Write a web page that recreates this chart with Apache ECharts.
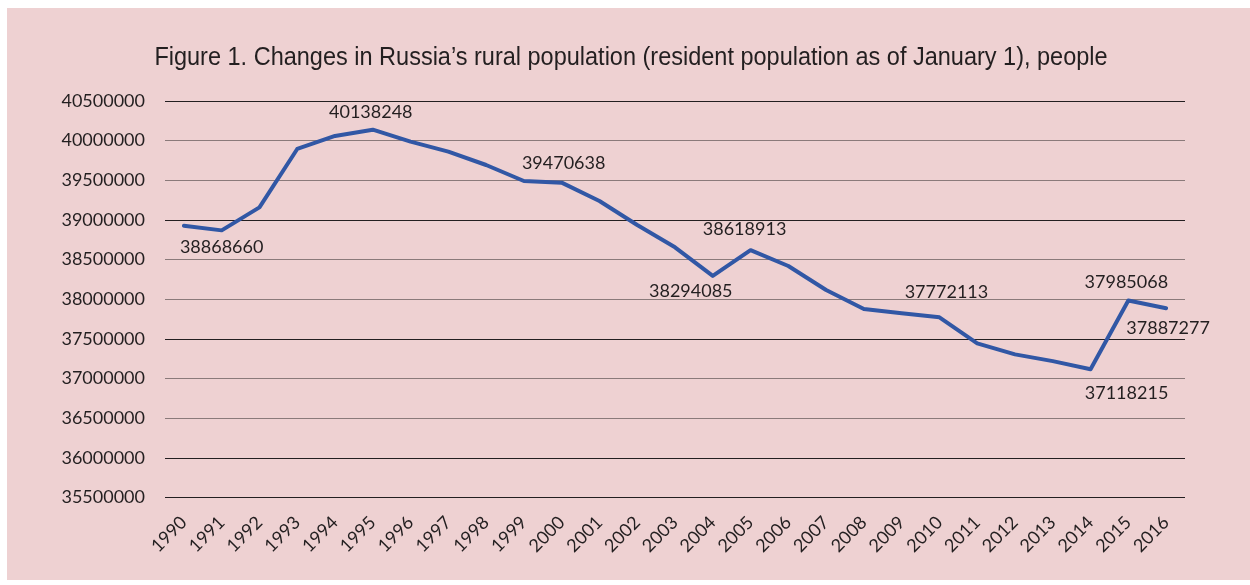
<!DOCTYPE html>
<html>
<head>
<meta charset="utf-8">
<script src="https://cdn.jsdelivr.net/npm/echarts@6/dist/echarts.min.js"></script>
<style>
  html, body { margin: 0; padding: 0; background: #ffffff; }
  #frame { position: absolute; left: 7px; top: 8px; width: 1243px; height: 572px; background: #eed1d2; }
  #chart { position: absolute; left: 0; top: 0; width: 1250px; height: 585px; }
</style>
</head>
<body>
<div id="frame"></div>
<div id="chart"></div>
<script>
// Rural population of Russia, resident population as of January 1
const years = ['1990','1991','1992','1993','1994','1995','1996','1997','1998','1999',
  '2000','2001','2002','2003','2004','2005','2006','2007','2008','2009',
  '2010','2011','2012','2013','2014','2015','2016'];
const ruralPopulation = [38928000, 38868660, 39159000, 39895000, 40059000, 40138248, 39987000,
  39861000, 39693000, 39491000, 39470638, 39239000, 38936000, 38655000, 38294085,
  38618913, 38419000, 38117000, 37877000, 37823000, 37772113, 37444000, 37305000,
  37220000, 37118215, 37985068, 37887277];
const yMin = 35500000;
const yMax = 40500000;
const yStep = 500000;
const titleText = 'Figure 1. Changes in Russia\u2019s rural population (resident population as of January 1), people';

// Years whose value is printed next to the line: side, distance, horizontal shift
const valueLabels = {
  '1991': ['bottom', 8, 0],
  '1995': ['top', 8, -2],
  '2000': ['top', 10, 2],
  '2004': ['bottom', 6, -22],
  '2005': ['top', 12, -6],
  '2010': ['top', 16, 7],
  '2014': ['bottom', 15, 36],
  '2015': ['top', 9, -2],
  '2016': ['bottom', 11, 2]
};

const ink = '#231f20';
const dark = '#231f20';
const grey = '#8a7a7a';
const lineBlue = '#3157a5';
const labelFont = 'Lato, "Open Sans", sans-serif';

const seriesData = ruralPopulation.map((v, i) => {
  const cfg = valueLabels[years[i]];
  if (!cfg) return v;
  return {
    value: v,
    label: {
      show: true,
      position: cfg[0],
      distance: cfg[1],
      offset: [cfg[2], 0]
    }
  };
});

const chart = echarts.init(document.getElementById('chart'), null, { renderer: 'canvas' });
chart.setOption({
  backgroundColor: 'transparent',
  animation: false,
  // condensed heading, drawn as a horizontally narrowed text element
  graphic: [{
    type: 'text',
    x: 631,
    y: 58.5,
    scaleX: 0.94,
    style: {
      text: titleText,
      x: 0,
      y: 0,
      align: 'center',
      verticalAlign: 'middle',
      fontFamily: '"Liberation Sans", Arial, sans-serif',
      fontSize: 25,
      fill: ink
    }
  }],
  grid: { left: 165, right: 65, top: 101, bottom: 87.5 },
  xAxis: {
    type: 'category',
    data: years,
    boundaryGap: true,
    axisLine: { show: false },
    axisTick: { show: false },
    axisLabel: {
      rotate: 45,
      margin: 22,
      interval: 0,
      fontFamily: labelFont,
      fontSize: 18,
      color: ink
    }
  },
  yAxis: {
    type: 'value',
    min: yMin,
    max: yMax,
    interval: yStep,
    axisLine: { show: false },
    axisTick: { show: false },
    axisLabel: {
      margin: 20,
      fontFamily: labelFont,
      fontSize: 18,
      color: ink,
      formatter: (v) => String(v)
    },
    splitLine: {
      show: true,
      lineStyle: {
        width: 1,
        color: [dark, dark, grey, grey, dark, grey, grey, dark, grey, grey, dark]
      }
    }
  },
  series: [{
    type: 'line',
    data: seriesData,
    symbol: 'circle',
    symbolSize: 0.01,
    showSymbol: true,
    lineStyle: { color: lineBlue, width: 4, join: 'round', cap: 'round' },
    itemStyle: { color: lineBlue },
    label: {
      show: false,
      fontFamily: labelFont,
      fontSize: 18,
      color: ink,
      formatter: (p) => String(p.value)
    }
  }]
});
</script>
</body>
</html>
